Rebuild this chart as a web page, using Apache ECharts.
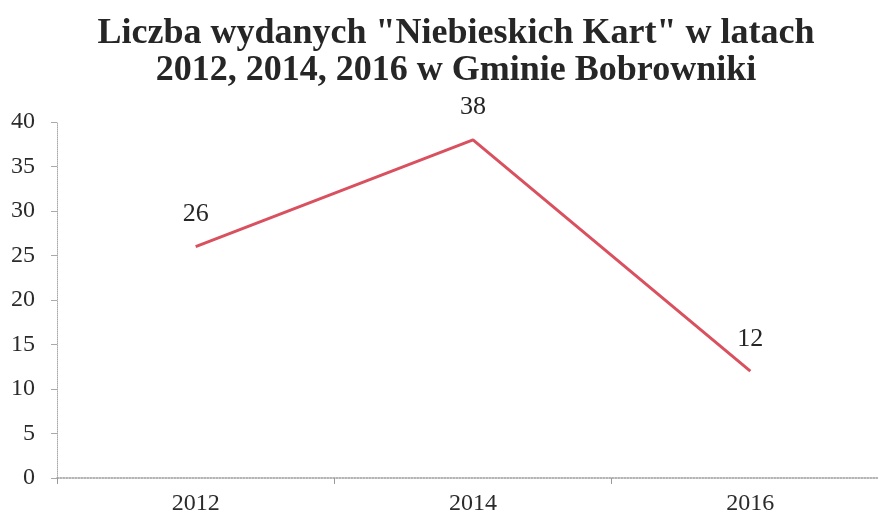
<!DOCTYPE html>
<html><head><meta charset="utf-8">
<script src="https://cdn.jsdelivr.net/npm/echarts@6/dist/echarts.min.js"></script>
<style>html,body{margin:0;padding:0;background:#fff;overflow:hidden}#c{width:892px;height:517px}</style>
</head><body><div id="c"></div>
<script>
const years = ['2012', '2014', '2016'];
const cards = [26, 38, 12];
const titleLines = ['Liczba wydanych "Niebieskich Kart" w latach', '2012, 2014, 2016 w Gminie Bobrowniki'];

const chart = echarts.init(document.getElementById('c'));
const serif = '"Liberation Serif", "Times New Roman", serif';
chart.setOption({
  backgroundColor: '#fff',
  animation: false,
  title: {
    text: titleLines.join('\n'),
    left: 451, textAlign: 'center', top: 10,
    textStyle: { fontFamily: serif, fontWeight: 'bold', fontSize: 36, lineHeight: 37, color: '#262626' }
  },
  grid: { left: 57, top: 122, right: 3, bottom: 39, containLabel: false },
  xAxis: {
    type: 'category', data: years, boundaryGap: true,
    axisLine: { lineStyle: { color: '#9a9a9a', width: 1.5, type: 'dotted' } },
    axisTick: { show: true, length: 6, lineStyle: { color: '#9a9a9a' } },
    axisLabel: { fontFamily: serif, fontSize: 24, color: '#2b2b2b', margin: 14 },
    splitLine: { show: false }
  },
  yAxis: {
    type: 'value', min: 0, max: 40, interval: 5,
    axisLine: { show: true, lineStyle: { color: '#aaa', width: 1, type: 'dotted' } },
    axisTick: { show: true, length: 6, lineStyle: { color: '#aaa' } },
    axisLabel: { fontFamily: serif, fontSize: 24, color: '#2b2b2b', margin: 22 },
    splitLine: { show: false }
  },
  series: [{
    type: 'line', data: cards, symbol: 'circle', symbolSize: 1,
    itemStyle: { color: 'rgba(0,0,0,0)' },
    lineStyle: { color: '#d9515f', width: 3 },
    label: { show: true, position: 'top', distance: 19, fontFamily: serif, fontSize: 26, color: '#262626' }
  }]
});
</script></body></html>
